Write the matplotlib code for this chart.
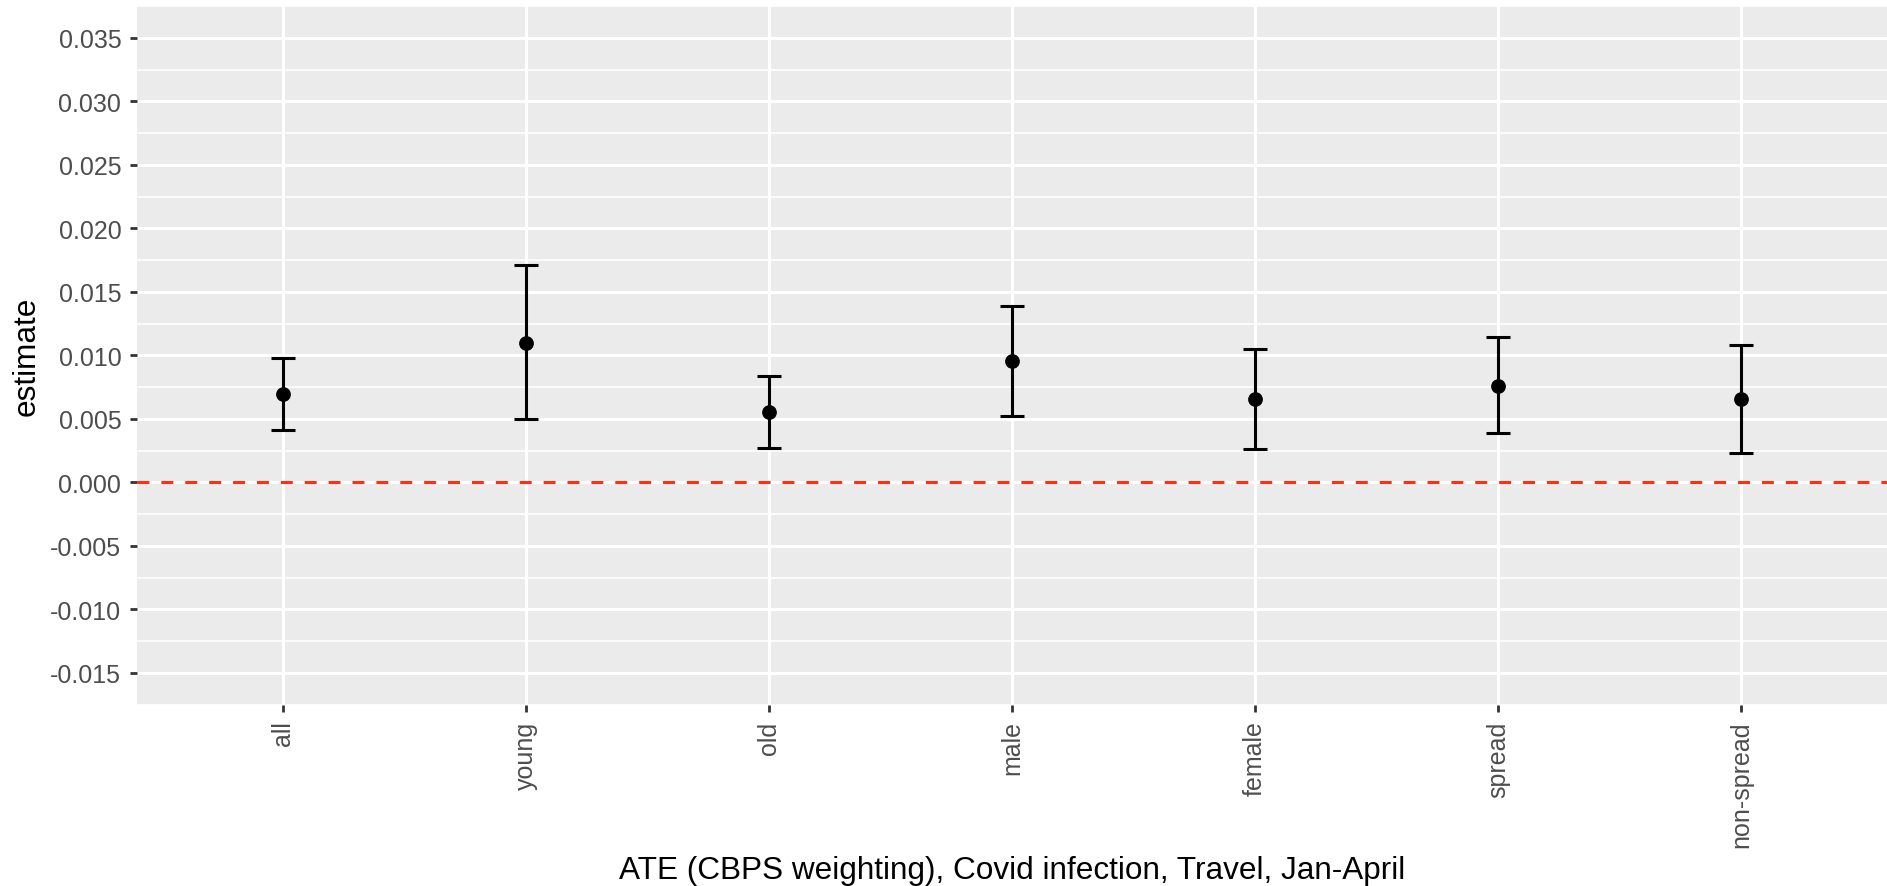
import matplotlib
matplotlib.use("Agg")
import matplotlib.pyplot as plt
import numpy as np

# Subgroup ATE estimates with confidence bounds
groups = ["all", "young", "old", "male", "female", "spread", "non-spread"]
estimate = [0.00697, 0.01101, 0.00553, 0.00957, 0.00655, 0.00760, 0.00655]
lower = [0.00411, 0.00496, 0.00270, 0.00524, 0.00262, 0.00385, 0.00233]
upper = [0.00978, 0.01710, 0.00836, 0.01390, 0.01051, 0.01143, 0.01080]
y_breaks = [-0.015, -0.010, -0.005, 0.000, 0.005, 0.010, 0.015, 0.020, 0.025, 0.030, 0.035]

plt.rcParams["font.family"] = ["Liberation Sans", "DejaVu Sans"]
plt.rcParams["lines.scale_dashes"] = False

W, H = 1887, 887
fig = plt.figure(figsize=(W / 100, H / 100), dpi=100)
left, right, top, bottom = 137, 1887, 7, 705.7
ax = fig.add_axes([left / W, 1 - bottom / H, (right - left) / W, (bottom - top) / H])

ax.set_facecolor("#EBEBEB")
for s in ax.spines.values():
    s.set_visible(False)

x = np.arange(1, len(groups) + 1)
est = np.array(estimate)
lo = np.array(lower)
hi = np.array(upper)

# panel grid: major and minor lines in white
minor = [(a + b) / 2 for a, b in zip(y_breaks[:-1], y_breaks[1:])]
minor = [y_breaks[0] - 0.0025] + minor + [y_breaks[-1] + 0.0025]
for m in minor:
    ax.axhline(m, color="white", lw=1.1, zorder=0.5)
for b in y_breaks:
    ax.axhline(b, color="white", lw=2.2, zorder=0.6)
for xi in x:
    ax.axvline(xi, color="white", lw=2.2, zorder=0.6)

# reference line at zero
ax.axhline(0, color="#FF3010", lw=2.2, dashes=(8.6, 8.6), zorder=1)

ax.errorbar(x, est, yerr=[est - lo, hi - est], fmt="none", ecolor="black",
            elinewidth=2.2, capsize=8.4, capthick=2.2, zorder=2)
ax.plot(x, est, "o", color="black", ms=9.6, zorder=3)

ax.set_xlim(0.4, 7.6)
ax.set_ylim(-0.0175, 0.0375)
ax.set_yticks(y_breaks)
ax.set_yticklabels([f"{v:.3f}" for v in y_breaks])
ax.set_xticks(x)
ax.set_xticklabels(groups, rotation=90, va="top", ha="center")

ax.tick_params(axis="both", colors="#333333", width=2, length=5.3,
               labelsize=18, labelcolor="#4D4D4D", pad=6)

fig.text(27 / W, 1 - ((top + bottom) / 2) / H, "estimate", rotation=90,
         ha="center", va="center", fontsize=22.7, color="black")
fig.text(((left + right) / 2) / W, 1 - 879 / H,
         "ATE (CBPS weighting), Covid infection, Travel, Jan-April",
         ha="center", va="baseline", fontsize=22.7, color="black")

fig.savefig("out.png", dpi=100, facecolor="white")
